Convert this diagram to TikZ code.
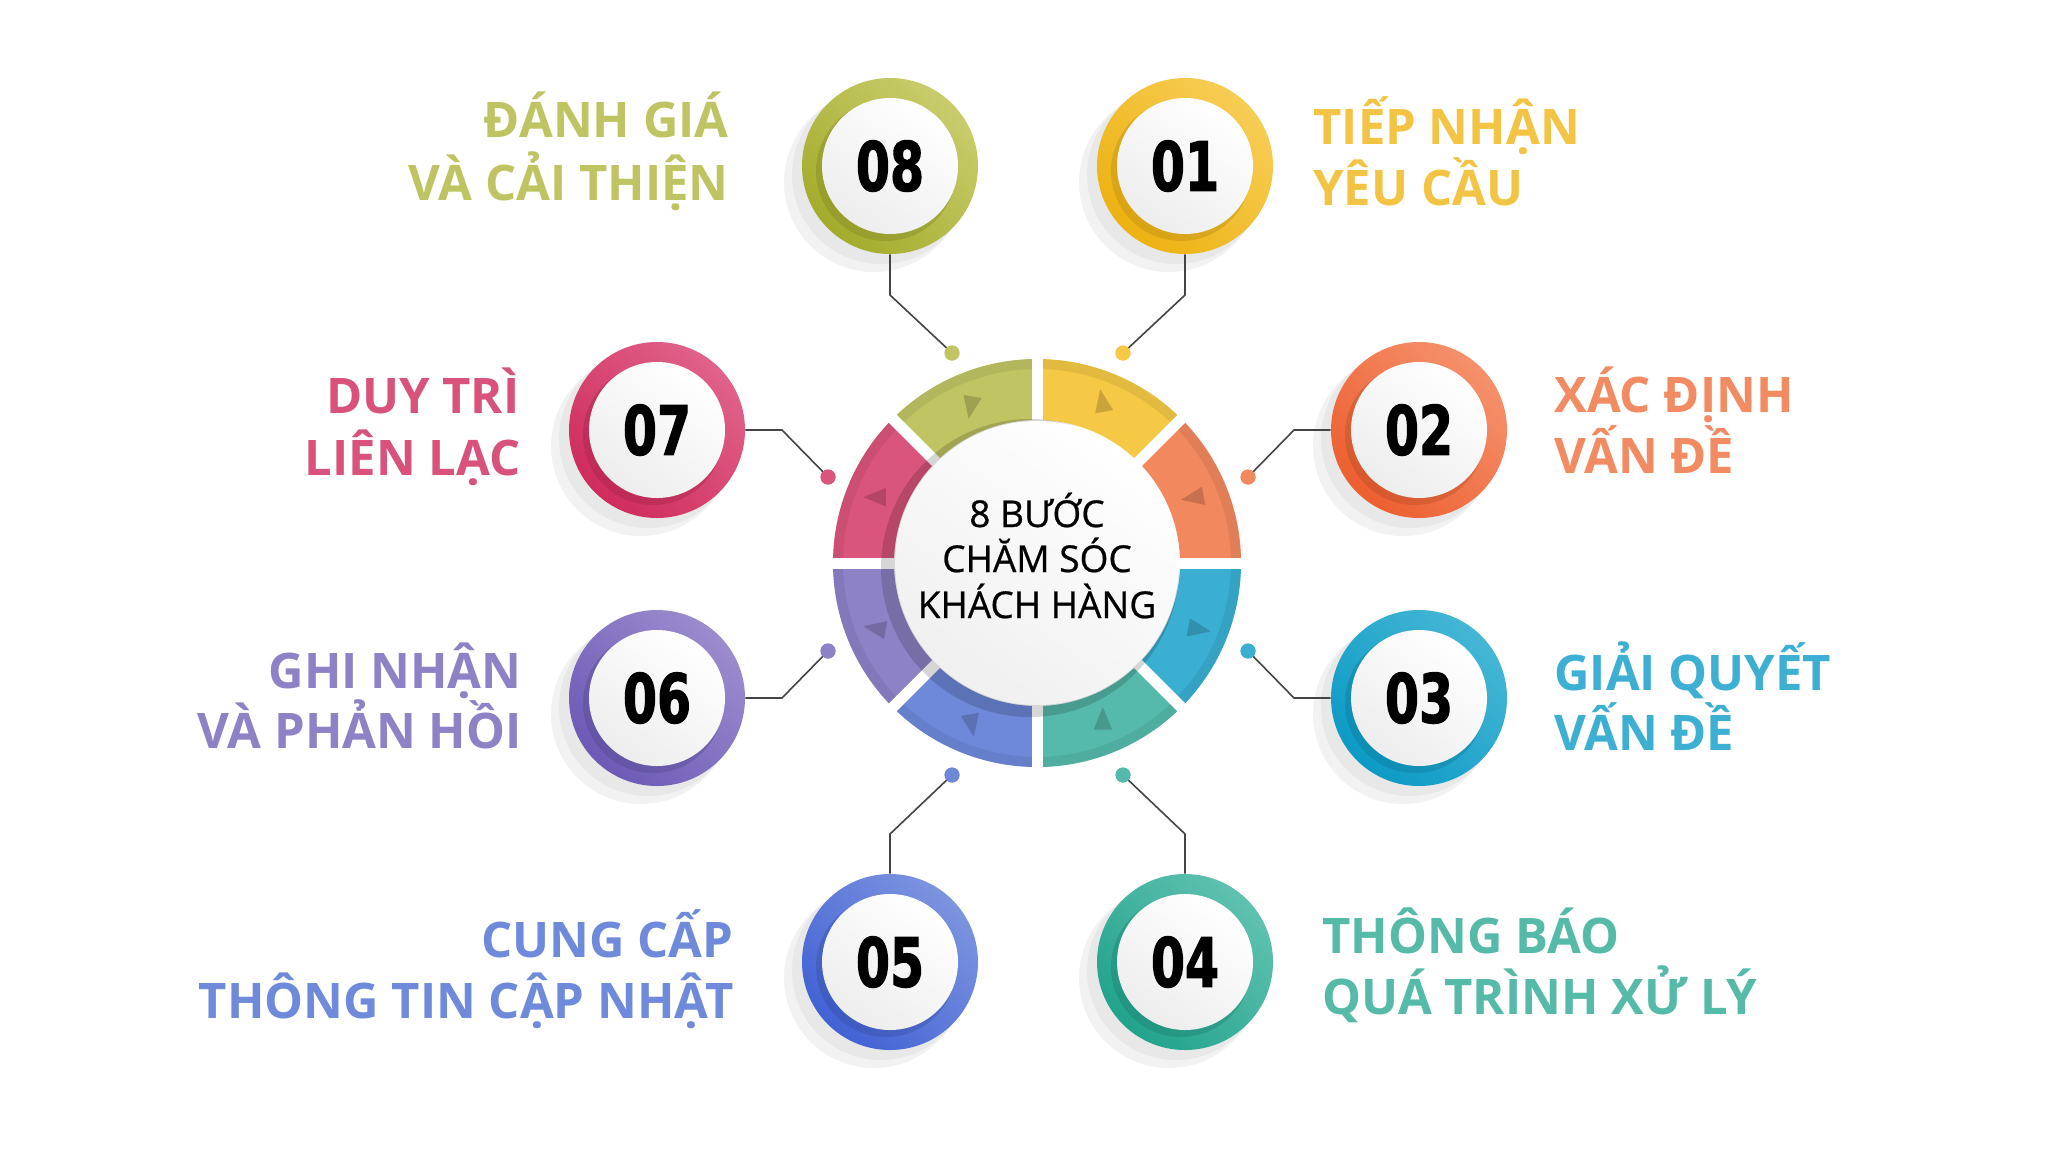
\documentclass[tikz,border=0pt]{standalone}
\usepackage{fontspec}
\setmainfont{Open Sans}
\newfontfamily\numfont{DejaVu Sans}[BoldFeatures={FakeBold=1.6, FakeStretch=0.72}]
\newfontfamily\hubfont{Open Sans}[UprightFeatures={FakeBold=0.6}]
\usetikzlibrary{calc}
\definecolor{olL}{HTML}{C8CC6C}\definecolor{olD}{HTML}{A4AC2C}\definecolor{olT}{HTML}{BFC462}
\definecolor{yeL}{HTML}{F7CD55}\definecolor{yeD}{HTML}{EDB212}\definecolor{yeT}{HTML}{F3C343}
\definecolor{orL}{HTML}{F5916C}\definecolor{orD}{HTML}{EC5F30}\definecolor{orT}{HTML}{F28A62}
\definecolor{blL}{HTML}{45B6D5}\definecolor{blD}{HTML}{0C9AC5}\definecolor{blT}{HTML}{3DAFD3}
\definecolor{teL}{HTML}{60C1B0}\definecolor{teD}{HTML}{22A38C}\definecolor{teT}{HTML}{55BAA8}
\definecolor{inL}{HTML}{7D94DF}\definecolor{inD}{HTML}{4262D4}\definecolor{inT}{HTML}{6F8ADB}
\definecolor{puL}{HTML}{9B8CCE}\definecolor{puD}{HTML}{6C5AB6}\definecolor{puT}{HTML}{8E81C6}
\definecolor{piL}{HTML}{E0628A}\definecolor{piD}{HTML}{CF2C5C}\definecolor{piT}{HTML}{D8527B}
\definecolor{olS}{HTML}{C0C463}\definecolor{yeS}{HTML}{F5C845}\definecolor{orS}{HTML}{F2885E}
\definecolor{blS}{HTML}{3AAFD2}\definecolor{teS}{HTML}{55BAAB}\definecolor{inS}{HTML}{6E89DA}
\definecolor{puS}{HTML}{8E82C7}\definecolor{piS}{HTML}{DA557B}
\definecolor{lineC}{HTML}{444444}
\newcommand{\StepCircle}[6]{%
  \fill[gray!10] (#2-16,#3+16) circle[radius=90];
  \fill[gray!18] (#2-9,#3+9) circle[radius=89];
  \node[circle, minimum size=88pt, inner sep=0pt, top color=#5, bottom color=#6, shading angle=-45] (#1) at (#2,#3) {};
  \fill[#6!75!black, opacity=.35] (#2-4,#3+5) circle[radius=70];
  \node[circle, minimum size=68pt, inner sep=0pt, top color=white, bottom color=gray!14, shading angle=-35] (#1w) at (#2,#3) {\numfont\bfseries\fontsize{34}{34}\selectfont #4};
}
\newcommand{\RingSeg}[4]{%
  \fill[#3, shift={(1037,563)}] (#1:204) arc[start angle=#1, end angle=#2, radius=204] -- (#2:143) arc[start angle=#2, end angle=#1, radius=143] -- cycle;
  \fill[#3!80!black, opacity=.35, shift={(1037,563)}] (#1:204) arc[start angle=#1, end angle=#2, radius=204] -- (#2:194) arc[start angle=#2, end angle=#1, radius=194] -- cycle;
  \fill[#3!75!black, opacity=.7, shift={(1037,563)}, shift={({(#1+#2)/2}:172)}] (#4:15) -- (#4+130:12) -- (#4-130:12) -- cycle;
}
\tikzset{
  lab/.style={font=\bfseries\fontsize{24.5}{30}\selectfont, inner sep=0pt},
  hubtxt/.style={font=\hubfont\fontsize{18.5}{23}\selectfont, anchor=base},
  conn/.style={draw=lineC, line width=0.8pt},
  dotn/.style={circle, inner sep=0pt, minimum size=7.5pt}
}
\begin{document}
\begin{tikzpicture}[x=0.5pt, y=-0.5pt]
\useasboundingbox (0,0) rectangle (2048,1152);
\fill[white] (0,0) rectangle (2048,1152);

% ring segments (y-down angles: clockwise on screen)
\RingSeg{-90}{-45}{yeS}{260}
\RingSeg{-45}{0}{orS}{170}
\RingSeg{0}{45}{blS}{10}
\RingSeg{45}{90}{teS}{270}
\RingSeg{90}{135}{inS}{80}
\RingSeg{135}{180}{puS}{190}
\RingSeg{180}{225}{piS}{180}
\RingSeg{225}{270}{olS}{100}
\foreach \a in {0,45,...,315}
  \draw[white, line width=5.5pt, shift={(1037,563)}] (\a:120) -- (\a:212);
% centre disc
\fill[black, opacity=.16] (1030,568) circle[radius=149];
\node[circle, minimum size=142pt, inner sep=0pt, top color=white, bottom color=gray!12, shading angle=-35] (hub) at (1037,563) {};
\node[hubtxt] (t1) at (1037,527) {8 BƯỚC};
\node[hubtxt] (t2) at (1037,572) {CHĂM SÓC};
\node[hubtxt] (t3) at (1037,618) {KHÁCH HÀNG};

% dots
\node[dotn, fill=olS] (d8) at (952,353) {};
\node[dotn, fill=yeS] (d1) at (1123,353) {};
\node[dotn, fill=piS] (d7) at (828,477) {};
\node[dotn, fill=orS] (d2) at (1248,477) {};
\node[dotn, fill=puS] (d6) at (828,651) {};
\node[dotn, fill=blS] (d3) at (1248,651) {};
\node[dotn, fill=inS] (d5) at (952,775) {};
\node[dotn, fill=teS] (d4) at (1123,775) {};

% bend points
\coordinate (b8) at (890,295);
\coordinate (b1) at (1185,295);
\coordinate (b7) at (782,430);
\coordinate (b2) at (1294,430);
\coordinate (b6) at (782,698);
\coordinate (b3) at (1294,698);
\coordinate (b5) at (890,834);
\coordinate (b4) at (1185,834);

% numbered circles
\StepCircle{n8}{890}{166}{08}{olL}{olD}
\StepCircle{n1}{1185}{166}{01}{yeL}{yeD}
\StepCircle{n7}{657}{430}{07}{piL}{piD}
\StepCircle{n2}{1419}{430}{02}{orL}{orD}
\StepCircle{n6}{657}{698}{06}{puL}{puD}
\StepCircle{n3}{1419}{698}{03}{blL}{blD}
\StepCircle{n5}{890}{962}{05}{inL}{inD}
\StepCircle{n4}{1185}{962}{04}{teL}{teD}

% connectors
\draw[conn] (n8.south) -- (b8) -- (d8.center);
\draw[conn] (n1.south) -- (b1) -- (d1.center);
\draw[conn] (n7.east) -- (b7) -- (d7.center);
\draw[conn] (n2.west) -- (b2) -- (d2.center);
\draw[conn] (n6.east) -- (b6) -- (d6.center);
\draw[conn] (n3.west) -- (b3) -- (d3.center);
\draw[conn] (n5.north) -- (b5) -- (d5.center);
\draw[conn] (n4.north) -- (b4) -- (d4.center);
\foreach \d/\c in {d8/olS,d1/yeS,d7/piS,d2/orS,d6/puS,d3/blS,d5/inS,d4/teS}
  \fill[\c] (\d) circle[radius=7.5];

% labels
\node[lab, text=olT, anchor=base east] (l8a) at (729,137) {ĐÁNH GIÁ};
\node[lab, text=olT, anchor=base east] (l8b) at (729,200) {VÀ CẢI THIỆN};
\node[lab, text=yeT, anchor=base west] (l1a) at (1313,144) {TIẾP NHẬN};
\node[lab, text=yeT, anchor=base west] (l1b) at (1313,205) {YÊU CẦU};
\node[lab, text=piT, anchor=base east] (l7a) at (520,413) {DUY TRÌ};
\node[lab, text=piT, anchor=base east] (l7b) at (521,475) {LIÊN LẠC};
\node[lab, text=orT, anchor=base west] (l2a) at (1554,412) {XÁC ĐỊNH};
\node[lab, text=orT, anchor=base west] (l2b) at (1554,473) {VẤN ĐỀ};
\node[lab, text=puT, anchor=base east] (l6a) at (522,688) {GHI NHẬN};
\node[lab, text=puT, anchor=base east] (l6b) at (522,748) {VÀ PHẢN HỒI};
\node[lab, text=blT, anchor=base west] (l3a) at (1554,690) {GIẢI QUYẾT};
\node[lab, text=blT, anchor=base west] (l3b) at (1554,750) {VẤN ĐỀ};
\node[lab, text=inT, anchor=base east] (l5a) at (734,957) {CUNG CẤP};
\node[lab, text=inT, anchor=base east] (l5b) at (734,1018) {THÔNG TIN CẬP NHẬT};
\node[lab, text=teT, anchor=base west] (l4a) at (1322,953) {THÔNG BÁO};
\node[lab, text=teT, anchor=base west] (l4b) at (1322,1014) {QUÁ TRÌNH XỬ LÝ};
\end{tikzpicture}
\end{document}
